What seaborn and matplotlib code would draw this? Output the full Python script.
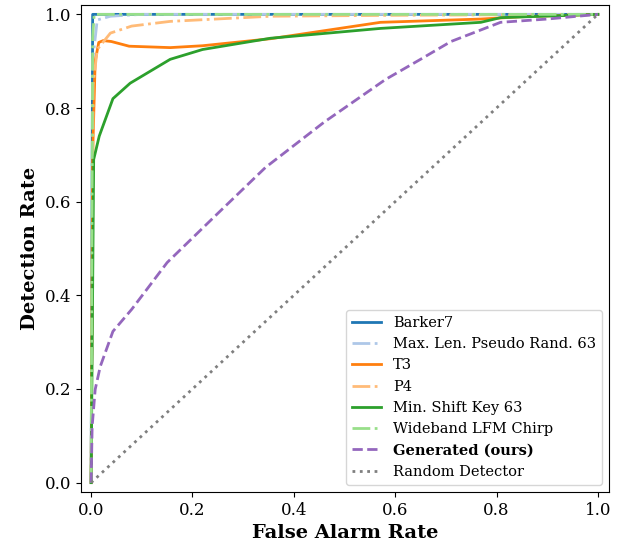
import matplotlib
matplotlib.use("Agg")
import matplotlib.pyplot as plt
import seaborn as sns
import pandas as pd

plt.rcParams['font.family'] = ['DejaVu Serif']

labels = ["Barker7", "Max. Len. Pseudo Rand. 63", "T3", "P4",
          "Min. Shift Key 63", "Wideband LFM Chirp", "Generated (ours)", "Random Detector"]
colors = ["#1f77b4", "#aec7e8", "#ff7f0e", "#ffbb78", "#2ca02c", "#98df8a", "#9467bd", "#7f7f7f"]
styles = ["-", "-.", "-", "-.", "-", "-.", "--", ":"]

barker_fpr = [0.0, 0.003, 0.01, 1.0]
barker_tpr = [0.0, 1.0, 1.0, 1.0]
mlprs_fpr = [0.0, 0.003, 0.012, 0.038, 0.1, 1.0]
mlprs_tpr = [0.0, 0.9, 0.988, 0.996, 1.0, 1.0]
t3_fpr = [0.0, 0.003, 0.008, 0.015, 0.024, 0.04, 0.075, 0.156, 0.22, 0.354, 0.571, 0.769, 0.85, 1.0]
t3_tpr = [0.0, 0.70, 0.90, 0.94, 0.944, 0.942, 0.932, 0.929, 0.933, 0.948, 0.983, 0.990, 0.995, 1.0]
p4_fpr = [0.0, 0.004, 0.012, 0.038, 0.08, 0.156, 0.354, 0.6, 1.0]
p4_tpr = [0.0, 0.85, 0.925, 0.96, 0.975, 0.985, 0.996, 0.998, 1.0]
msk_fpr = [0.0, 0.005, 0.016, 0.043, 0.077, 0.156, 0.22, 0.354, 0.571, 0.769, 0.808, 1.0]
msk_tpr = [0.0, 0.69, 0.74, 0.82, 0.853, 0.904, 0.925, 0.949, 0.970, 0.983, 0.993, 1.0]
lfm_fpr = [0.0, 0.003, 0.006, 1.0]
lfm_tpr = [0.0, 0.95, 1.0, 1.0]
gen_fpr = [0.0, 0.002, 0.008, 0.018, 0.043, 0.08, 0.15, 0.25, 0.344, 0.46, 0.581, 0.65, 0.71, 0.808, 0.90, 1.0]
gen_tpr = [0.0, 0.12, 0.199, 0.248, 0.323, 0.37, 0.47, 0.575, 0.673, 0.77, 0.861, 0.904, 0.942, 0.983, 0.99, 1.0]
rand_fpr = [0.0, 1.0]
rand_tpr = [0.0, 1.0]

series = [(barker_fpr, barker_tpr), (mlprs_fpr, mlprs_tpr), (t3_fpr, t3_tpr), (p4_fpr, p4_tpr),
          (msk_fpr, msk_tpr), (lfm_fpr, lfm_tpr), (gen_fpr, gen_tpr), (rand_fpr, rand_tpr)]

fig = plt.figure(figsize=(6.36, 5.49), dpi=100)
ax = fig.add_axes([81/636, 1-492/549, (609-81)/636, (492-5)/549])

for (fx, ty), lab, col, ls in zip(series, labels, colors, styles):
    df = pd.DataFrame({"fpr": fx, "tpr": ty})
    lw = 2.0 if ls != ":" else 2.0
    sns.lineplot(data=df, x="fpr", y="tpr", ax=ax, color=col, linestyle=ls,
                 linewidth=lw, label=lab, sort=False, estimator=None)

ax.set_xlim(-0.02, 1.022)
ax.set_ylim(-0.02, 1.02)
ax.set_xticks([0, 0.2, 0.4, 0.6, 0.8, 1.0])
ax.set_yticks([0, 0.2, 0.4, 0.6, 0.8, 1.0])
ax.tick_params(labelsize=12)
ax.set_xlabel("False Alarm Rate", fontsize=14, fontweight="bold")
ax.set_ylabel("Detection Rate", fontsize=14, fontweight="bold")
leg = ax.legend(loc="lower right", fontsize=10.5)
for t in leg.get_texts():
    if t.get_text() == "Generated (ours)":
        t.set_fontweight("bold")

fig.savefig("out.png", dpi=100)
